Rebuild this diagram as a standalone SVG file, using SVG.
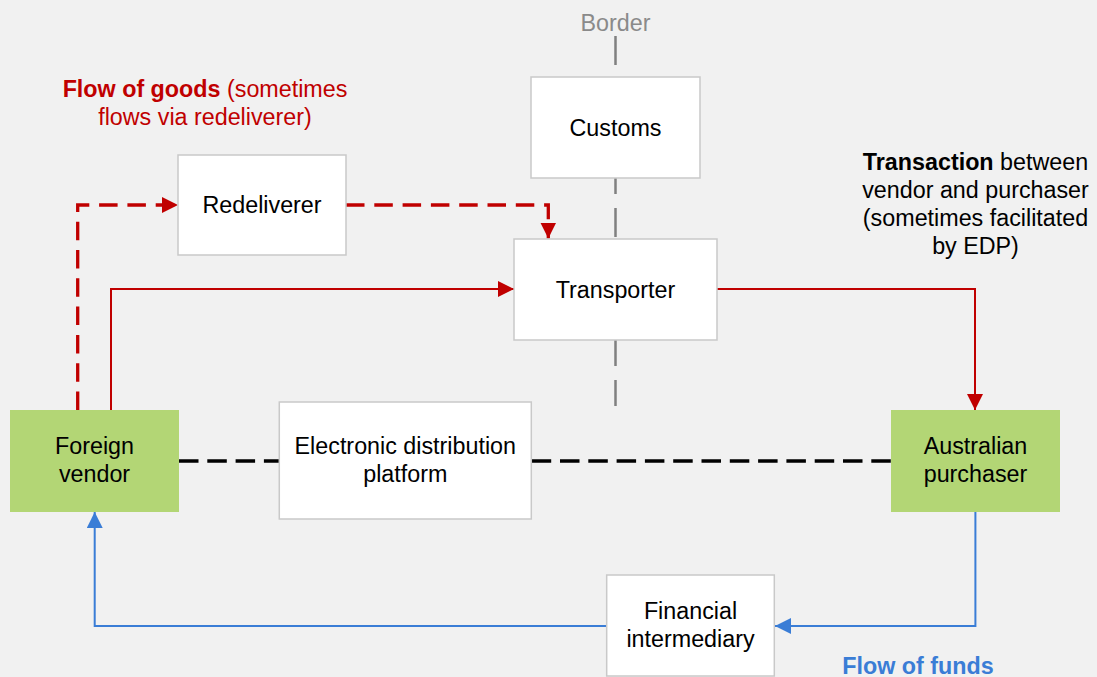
<svg xmlns="http://www.w3.org/2000/svg" width="1097" height="677" viewBox="0 0 1097 677">
<style>
text{font-family:"Liberation Sans",Arial,sans-serif;font-size:23.3px;fill:#000;text-anchor:middle}
.box{fill:#fff;stroke:#c9c9c9;stroke-width:1.5}
.green{fill:#b3d675}
.red{fill:none;stroke:#c00000;stroke-width:2}
.reddash{fill:none;stroke:#c00000;stroke-width:3.3;stroke-dasharray:18.5 9.8}
.blkdash{fill:none;stroke:#000;stroke-width:3.5;stroke-dasharray:19.5 8.8}
.blue{fill:none;stroke:#3a7dd6;stroke-width:2}
.b{font-weight:bold}
</style>
<defs>
<marker id="arR" markerUnits="userSpaceOnUse" markerWidth="17" markerHeight="16" refX="16" refY="8" orient="auto"><path d="M0,0 L16,8 L0,16 z" fill="#c00000"/></marker>
<marker id="arB" markerUnits="userSpaceOnUse" markerWidth="17" markerHeight="16" refX="16" refY="8" orient="auto"><path d="M0,0 L16,8 L0,16 z" fill="#3a7dd6"/></marker>
</defs>
<rect x="0" y="0" width="1097" height="677" fill="#f1f1f1"/>
<g id="border">
<path d="M615.5,36 V406" fill="none" stroke="#808080" stroke-width="2.5" stroke-dasharray="29 14"/>
<text x="615.5" y="31" fill="#8a8a8a" style="fill:#8a8a8a">Border</text>
</g>
<g id="connectors">
<path class="reddash" d="M77.7,410 V205 H178" marker-end="url(#arR)"/>
<path class="reddash" d="M346,205 H548.3 V238.5" marker-end="url(#arR)"/>
<path class="red" d="M111,410 V289 H514" marker-end="url(#arR)"/>
<path class="red" d="M717,289 H975 V410" marker-end="url(#arR)"/>
<path class="blkdash" d="M179,461 H279"/>
<path class="blkdash" d="M531.7,461 H891"/>
<path class="blue" d="M975.4,512 V626 H775" marker-end="url(#arB)"/>
<path class="blue" d="M606.7,626 H94.7 V512" marker-end="url(#arB)"/>
</g>
<g id="customs">
<rect class="box" x="531" y="77" width="169" height="101"/>
<text x="615.5" y="135.5">Customs</text>
</g>
<g id="transporter">
<rect class="box" x="514" y="239" width="203" height="101"/>
<text x="615.5" y="297.5">Transporter</text>
</g>
<g id="redeliverer">
<rect class="box" x="178" y="155" width="168" height="100"/>
<text x="262" y="213">Redeliverer</text>
</g>
<g id="foreign-vendor">
<rect class="green" x="10" y="410" width="169" height="102"/>
<text x="94.5" y="454">Foreign</text>
<text x="94.5" y="482">vendor</text>
</g>
<g id="edp">
<rect class="box" x="279.3" y="402" width="252" height="117"/>
<text x="405.3" y="454">Electronic distribution</text>
<text x="405.3" y="482">platform</text>
</g>
<g id="australian-purchaser">
<rect class="green" x="891" y="410" width="169" height="102"/>
<text x="975.5" y="454">Australian</text>
<text x="975.5" y="482">purchaser</text>
</g>
<g id="financial-intermediary">
<rect class="box" x="606.7" y="575" width="167.6" height="101"/>
<text x="690.5" y="618.5">Financial</text>
<text x="690.5" y="646.5">intermediary</text>
</g>
<g id="labels">
<text x="205" y="97" style="fill:#c00000"><tspan class="b">Flow of goods</tspan> (sometimes</text>
<text x="205" y="125" style="fill:#c00000">flows via redeliverer)</text>
<text x="975.5" y="170"><tspan class="b">Transaction</tspan> between</text>
<text x="975.5" y="198">vendor and purchaser</text>
<text x="975.5" y="226">(sometimes facilitated</text>
<text x="975.5" y="254">by EDP)</text>
<text x="918" y="674" class="b" style="fill:#3a7dd6">Flow of funds</text>
</g>
</svg>
